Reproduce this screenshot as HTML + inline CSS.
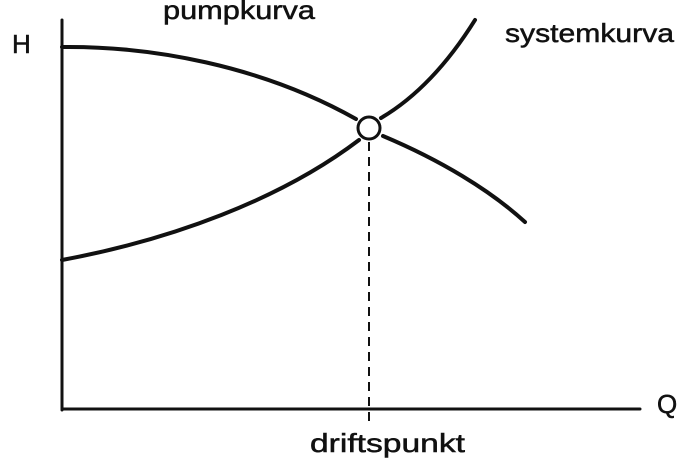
<!DOCTYPE html>
<html><head><meta charset="utf-8"><style>
html,body{margin:0;padding:0;background:#fff;width:700px;height:463px;overflow:hidden}
svg text{font-family:"Liberation Sans",sans-serif;fill:#111;stroke:#111;stroke-width:0.5}
</style></head><body>
<svg width="700" height="463" viewBox="0 0 700 463" xmlns="http://www.w3.org/2000/svg">
<g stroke="#111" fill="none" stroke-linecap="round">
<line x1="62" y1="20" x2="62" y2="410" stroke-width="3"/>
<line x1="62" y1="409" x2="640" y2="409" stroke-width="3"/>
<path d="M62,47 C150,46 260,65 356,119" stroke-width="4"/>
<path d="M383,136 C440,160 490,190 525,222" stroke-width="4"/>
<path d="M62,260 C170,240 280,200 359,140" stroke-width="4"/>
<path d="M381,118 C420,95 450,60 475,20" stroke-width="4"/>
<circle cx="369" cy="128" r="11" stroke-width="3" fill="#fff"/>
<line x1="369" y1="142" x2="369" y2="422" stroke-width="2" stroke-dasharray="9,6" stroke-linecap="butt"/>
</g>
<text x="12" y="53" font-size="26">H</text>
<text x="657" y="413" font-size="26">Q</text>
<text x="163" y="19" font-size="26" textLength="152" lengthAdjust="spacingAndGlyphs">pumpkurva</text>
<text x="505" y="42" font-size="26" textLength="169" lengthAdjust="spacingAndGlyphs">systemkurva</text>
<text x="310" y="452" font-size="26" textLength="155" lengthAdjust="spacingAndGlyphs">driftspunkt</text>
</svg>
</body></html>
